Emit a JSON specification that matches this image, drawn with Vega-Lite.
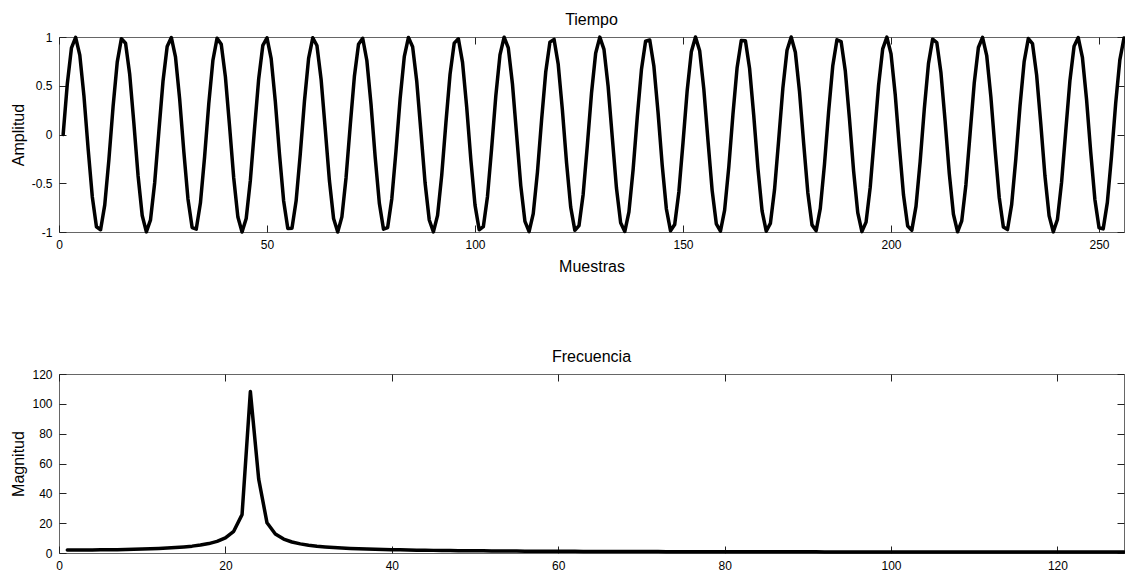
{
  "$schema": "https://vega.github.io/schema/vega-lite/v6.json",
  "background": "white",
  "padding": {"left": 9, "top": 11, "right": 0, "bottom": 0},
  "spacing": 73,
  "config": {
    "font": "Liberation Sans",
    "view": {"stroke": "#666666", "strokeWidth": 1},
    "axis": {"domain": false, "grid": false, "ticks": true, "tickSize": -7, "tickColor": "#222222", "tickWidth": 1, "labelPadding": 14, "labelFlush": false, "labelFontSize": 12, "labelColor": "#000000", "labelFont": "Liberation Sans", "titleFont": "Liberation Sans", "titleFontSize": 16, "titleFontWeight": "normal", "titleColor": "#000000"},
    "title": {"font": "Liberation Sans", "fontSize": 16, "fontWeight": "normal", "color": "#000000", "anchor": "middle", "frame": "group", "baseline": "alphabetic", "offset": 3}
  },
  "datasets": {
    "tiempo": [
      {"muestra":1,"amplitud":0},{"muestra":2,"amplitud":0.521},{"muestra":3,"amplitud":0.889},{"muestra":4,"amplitud":0.997},{"muestra":5,"amplitud":0.814},{"muestra":6,"amplitud":0.393},{"muestra":7,"amplitud":-0.144},{"muestra":8,"amplitud":-0.638},{"muestra":9,"amplitud":-0.946},{"muestra":10,"amplitud":-0.977},{"muestra":11,"amplitud":-0.722},{"muestra":12,"amplitud":-0.256},{"muestra":13,"amplitud":0.285},{"muestra":14,"amplitud":0.742},{"muestra":15,"amplitud":0.983},{"muestra":16,"amplitud":0.936},{"muestra":17,"amplitud":0.615},{"muestra":18,"amplitud":0.115},{"muestra":19,"amplitud":-0.42},{"muestra":20,"amplitud":-0.831},{"muestra":21,"amplitud":-0.999},{"muestra":22,"amplitud":-0.875},{"muestra":23,"amplitud":-0.495},
      {"muestra":24,"amplitud":0.03},{"muestra":25,"amplitud":0.546},{"muestra":26,"amplitud":0.902},{"muestra":27,"amplitud":0.995},{"muestra":28,"amplitud":0.796},{"muestra":29,"amplitud":0.365},{"muestra":30,"amplitud":-0.173},{"muestra":31,"amplitud":-0.661},{"muestra":32,"amplitud":-0.955},{"muestra":33,"amplitud":-0.97},{"muestra":34,"amplitud":-0.701},{"muestra":35,"amplitud":-0.228},{"muestra":36,"amplitud":0.313},{"muestra":37,"amplitud":0.762},{"muestra":38,"amplitud":0.988},{"muestra":39,"amplitud":0.925},{"muestra":40,"amplitud":0.591},{"muestra":41,"amplitud":0.085},{"muestra":42,"amplitud":-0.446},{"muestra":43,"amplitud":-0.847},{"muestra":44,"amplitud":-1.0},{"muestra":45,"amplitud":-0.861},{"muestra":46,"amplitud":-0.469},
      {"muestra":47,"amplitud":0.059},{"muestra":48,"amplitud":0.57},{"muestra":49,"amplitud":0.915},{"muestra":50,"amplitud":0.991},{"muestra":51,"amplitud":0.778},{"muestra":52,"amplitud":0.337},{"muestra":53,"amplitud":-0.202},{"muestra":54,"amplitud":-0.682},{"muestra":55,"amplitud":-0.963},{"muestra":56,"amplitud":-0.962},{"muestra":57,"amplitud":-0.68},{"muestra":58,"amplitud":-0.199},{"muestra":59,"amplitud":0.341},{"muestra":60,"amplitud":0.78},{"muestra":61,"amplitud":0.992},{"muestra":62,"amplitud":0.913},{"muestra":63,"amplitud":0.567},{"muestra":64,"amplitud":0.056},{"muestra":65,"amplitud":-0.472},{"muestra":66,"amplitud":-0.862},{"muestra":67,"amplitud":-1.0},{"muestra":68,"amplitud":-0.845},{"muestra":69,"amplitud":-0.443},
      {"muestra":70,"amplitud":0.089},{"muestra":71,"amplitud":0.594},{"muestra":72,"amplitud":0.926},{"muestra":73,"amplitud":0.987},{"muestra":74,"amplitud":0.759},{"muestra":75,"amplitud":0.31},{"muestra":76,"amplitud":-0.231},{"muestra":77,"amplitud":-0.704},{"muestra":78,"amplitud":-0.971},{"muestra":79,"amplitud":-0.954},{"muestra":80,"amplitud":-0.658},{"muestra":81,"amplitud":-0.17},{"muestra":82,"amplitud":0.368},{"muestra":83,"amplitud":0.799},{"muestra":84,"amplitud":0.995},{"muestra":85,"amplitud":0.901},{"muestra":86,"amplitud":0.543},{"muestra":87,"amplitud":0.026},{"muestra":88,"amplitud":-0.498},{"muestra":89,"amplitud":-0.877},{"muestra":90,"amplitud":-0.999},{"muestra":91,"amplitud":-0.829},{"muestra":92,"amplitud":-0.416},
      {"muestra":93,"amplitud":0.118},{"muestra":94,"amplitud":0.618},{"muestra":95,"amplitud":0.937},{"muestra":96,"amplitud":0.982},{"muestra":97,"amplitud":0.74},{"muestra":98,"amplitud":0.281},{"muestra":99,"amplitud":-0.26},{"muestra":100,"amplitud":-0.724},{"muestra":101,"amplitud":-0.977},{"muestra":102,"amplitud":-0.945},{"muestra":103,"amplitud":-0.635},{"muestra":104,"amplitud":-0.14},{"muestra":105,"amplitud":0.396},{"muestra":106,"amplitud":0.816},{"muestra":107,"amplitud":0.998},{"muestra":108,"amplitud":0.888},{"muestra":109,"amplitud":0.518},{"muestra":110,"amplitud":-0.004},{"muestra":111,"amplitud":-0.524},{"muestra":112,"amplitud":-0.891},{"muestra":113,"amplitud":-0.997},{"muestra":114,"amplitud":-0.812},{"muestra":115,"amplitud":-0.389},
      {"muestra":116,"amplitud":0.147},{"muestra":117,"amplitud":0.641},{"muestra":118,"amplitud":0.947},{"muestra":119,"amplitud":0.976},{"muestra":120,"amplitud":0.72},{"muestra":121,"amplitud":0.253},{"muestra":122,"amplitud":-0.288},{"muestra":123,"amplitud":-0.745},{"muestra":124,"amplitud":-0.983},{"muestra":125,"amplitud":-0.934},{"muestra":126,"amplitud":-0.612},{"muestra":127,"amplitud":-0.111},{"muestra":128,"amplitud":0.423},{"muestra":129,"amplitud":0.833},{"muestra":130,"amplitud":0.999},{"muestra":131,"amplitud":0.873},{"muestra":132,"amplitud":0.492},{"muestra":133,"amplitud":-0.033},{"muestra":134,"amplitud":-0.549},{"muestra":135,"amplitud":-0.904},{"muestra":136,"amplitud":-0.995},{"muestra":137,"amplitud":-0.794},{"muestra":138,"amplitud":-0.362},
      {"muestra":139,"amplitud":0.177},{"muestra":140,"amplitud":0.663},{"muestra":141,"amplitud":0.956},{"muestra":142,"amplitud":0.969},{"muestra":143,"amplitud":0.699},{"muestra":144,"amplitud":0.224},{"muestra":145,"amplitud":-0.316},{"muestra":146,"amplitud":-0.764},{"muestra":147,"amplitud":-0.988},{"muestra":148,"amplitud":-0.923},{"muestra":149,"amplitud":-0.589},{"muestra":150,"amplitud":-0.082},{"muestra":151,"amplitud":0.449},{"muestra":152,"amplitud":0.849},{"muestra":153,"amplitud":1.0},{"muestra":154,"amplitud":0.859},{"muestra":155,"amplitud":0.466},{"muestra":156,"amplitud":-0.063},{"muestra":157,"amplitud":-0.573},{"muestra":158,"amplitud":-0.916},{"muestra":159,"amplitud":-0.991},{"muestra":160,"amplitud":-0.776},{"muestra":161,"amplitud":-0.334},
      {"muestra":162,"amplitud":0.206},{"muestra":163,"amplitud":0.685},{"muestra":164,"amplitud":0.964},{"muestra":165,"amplitud":0.961},{"muestra":166,"amplitud":0.677},{"muestra":167,"amplitud":0.195},{"muestra":168,"amplitud":-0.344},{"muestra":169,"amplitud":-0.783},{"muestra":170,"amplitud":-0.992},{"muestra":171,"amplitud":-0.912},{"muestra":172,"amplitud":-0.565},{"muestra":173,"amplitud":-0.052},{"muestra":174,"amplitud":0.476},{"muestra":175,"amplitud":0.864},{"muestra":176,"amplitud":1.0},{"muestra":177,"amplitud":0.843},{"muestra":178,"amplitud":0.44},{"muestra":179,"amplitud":-0.092},{"muestra":180,"amplitud":-0.597},{"muestra":181,"amplitud":-0.927},{"muestra":182,"amplitud":-0.987},{"muestra":183,"amplitud":-0.757},{"muestra":184,"amplitud":-0.306},
      {"muestra":185,"amplitud":0.234},{"muestra":186,"amplitud":0.706},{"muestra":187,"amplitud":0.972},{"muestra":188,"amplitud":0.953},{"muestra":189,"amplitud":0.655},{"muestra":190,"amplitud":0.166},{"muestra":191,"amplitud":-0.372},{"muestra":192,"amplitud":-0.801},{"muestra":193,"amplitud":-0.996},{"muestra":194,"amplitud":-0.899},{"muestra":195,"amplitud":-0.54},{"muestra":196,"amplitud":-0.023},{"muestra":197,"amplitud":0.501},{"muestra":198,"amplitud":0.879},{"muestra":199,"amplitud":0.999},{"muestra":200,"amplitud":0.827},{"muestra":201,"amplitud":0.413},{"muestra":202,"amplitud":-0.122},{"muestra":203,"amplitud":-0.621},{"muestra":204,"amplitud":-0.938},{"muestra":205,"amplitud":-0.981},{"muestra":206,"amplitud":-0.737},{"muestra":207,"amplitud":-0.278},
      {"muestra":208,"amplitud":0.263},{"muestra":209,"amplitud":0.727},{"muestra":210,"amplitud":0.978},{"muestra":211,"amplitud":0.943},{"muestra":212,"amplitud":0.633},{"muestra":213,"amplitud":0.137},{"muestra":214,"amplitud":-0.399},{"muestra":215,"amplitud":-0.818},{"muestra":216,"amplitud":-0.998},{"muestra":217,"amplitud":-0.886},{"muestra":218,"amplitud":-0.515},{"muestra":219,"amplitud":0.007},{"muestra":220,"amplitud":0.527},{"muestra":221,"amplitud":0.892},{"muestra":222,"amplitud":0.997},{"muestra":223,"amplitud":0.81},{"muestra":224,"amplitud":0.386},{"muestra":225,"amplitud":-0.151},{"muestra":226,"amplitud":-0.643},{"muestra":227,"amplitud":-0.948},{"muestra":228,"amplitud":-0.975},{"muestra":229,"amplitud":-0.717},{"muestra":230,"amplitud":-0.249},
      {"muestra":231,"amplitud":0.291},{"muestra":232,"amplitud":0.747},{"muestra":233,"amplitud":0.984},{"muestra":234,"amplitud":0.933},{"muestra":235,"amplitud":0.609},{"muestra":236,"amplitud":0.108},{"muestra":237,"amplitud":-0.426},{"muestra":238,"amplitud":-0.835},{"muestra":239,"amplitud":-0.999},{"muestra":240,"amplitud":-0.872},{"muestra":241,"amplitud":-0.489},{"muestra":242,"amplitud":0.037},{"muestra":243,"amplitud":0.552},{"muestra":244,"amplitud":0.905},{"muestra":245,"amplitud":0.994},{"muestra":246,"amplitud":0.792},{"muestra":247,"amplitud":0.359},{"muestra":248,"amplitud":-0.18},{"muestra":249,"amplitud":-0.666},{"muestra":250,"amplitud":-0.957},{"muestra":251,"amplitud":-0.968},{"muestra":252,"amplitud":-0.696},{"muestra":253,"amplitud":-0.221},
      {"muestra":254,"amplitud":0.32},{"muestra":255,"amplitud":0.766},{"muestra":256,"amplitud":0.989}
    ],
    "frecuencia": [
      {"indice":1,"magnitud":2.01},{"indice":2,"magnitud":2.01},{"indice":3,"magnitud":2.03},{"indice":4,"magnitud":2.07},{"indice":5,"magnitud":2.11},{"indice":6,"magnitud":2.18},{"indice":7,"magnitud":2.26},{"indice":8,"magnitud":2.36},{"indice":9,"magnitud":2.48},{"indice":10,"magnitud":2.63},{"indice":11,"magnitud":2.81},{"indice":12,"magnitud":3.03},{"indice":13,"magnitud":3.3},{"indice":14,"magnitud":3.64},{"indice":15,"magnitud":4.06},{"indice":16,"magnitud":4.6},{"indice":17,"magnitud":5.32},{"indice":18,"magnitud":6.32},{"indice":19,"magnitud":7.78},{"indice":20,"magnitud":10.15},{"indice":21,"magnitud":14.57},{"indice":22,"magnitud":25.73},{"indice":23,"magnitud":108.26},{"indice":24,"magnitud":49.5},{"indice":25,"magnitud":20.24},{"indice":26,"magnitud":12.76},{"indice":27,"magnitud":9.35},{"indice":28,"magnitud":7.39},{"indice":29,"magnitud":6.12},{"indice":30,"magnitud":5.23},{"indice":31,"magnitud":4.58},{"indice":32,"magnitud":4.07},{"indice":33,"magnitud":3.67},{"indice":34,"magnitud":3.35},{"indice":35,"magnitud":3.08},{"indice":36,"magnitud":2.85},{"indice":37,"magnitud":2.66},{"indice":38,"magnitud":2.5},{"indice":39,"magnitud":2.35},{"indice":40,"magnitud":2.22},{"indice":41,"magnitud":2.11},{"indice":42,"magnitud":2.01},{"indice":43,"magnitud":1.92},{"indice":44,"magnitud":1.84},{"indice":45,"magnitud":1.76},{"indice":46,"magnitud":1.7},{"indice":47,"magnitud":1.63},{"indice":48,"magnitud":1.58},{"indice":49,"magnitud":1.53},{"indice":50,"magnitud":1.48},{"indice":51,"magnitud":1.43},{"indice":52,"magnitud":1.39},{"indice":53,"magnitud":1.36},{"indice":54,"magnitud":1.32},{"indice":55,"magnitud":1.28},{"indice":56,"magnitud":1.25},{"indice":57,"magnitud":1.22},{"indice":58,"magnitud":1.2},{"indice":59,"magnitud":1.17},{"indice":60,"magnitud":1.14},{"indice":61,"magnitud":1.12},{"indice":62,"magnitud":1.1},{"indice":63,"magnitud":1.08},{"indice":64,"magnitud":1.06},{"indice":65,"magnitud":1.04},{"indice":66,"magnitud":1.02},{"indice":67,"magnitud":1.0},{"indice":68,"magnitud":0.99},{"indice":69,"magnitud":0.97},{"indice":70,"magnitud":0.95},{"indice":71,"magnitud":0.94},{"indice":72,"magnitud":0.93},{"indice":73,"magnitud":0.91},{"indice":74,"magnitud":0.9},{"indice":75,"magnitud":0.89},{"indice":76,"magnitud":0.88},{"indice":77,"magnitud":0.87},{"indice":78,"magnitud":0.86},{"indice":79,"magnitud":0.85},{"indice":80,"magnitud":0.84},{"indice":81,"magnitud":0.83},{"indice":82,"magnitud":0.82},{"indice":83,"magnitud":0.81},{"indice":84,"magnitud":0.8},{"indice":85,"magnitud":0.8},{"indice":86,"magnitud":0.79},{"indice":87,"magnitud":0.78},{"indice":88,"magnitud":0.77},{"indice":89,"magnitud":0.77},{"indice":90,"magnitud":0.76},{"indice":91,"magnitud":0.76},{"indice":92,"magnitud":0.75},{"indice":93,"magnitud":0.74},{"indice":94,"magnitud":0.74},{"indice":95,"magnitud":0.73},{"indice":96,"magnitud":0.73},{"indice":97,"magnitud":0.72},{"indice":98,"magnitud":0.72},{"indice":99,"magnitud":0.72},{"indice":100,"magnitud":0.71},{"indice":101,"magnitud":0.71},{"indice":102,"magnitud":0.7},{"indice":103,"magnitud":0.7},{"indice":104,"magnitud":0.7},{"indice":105,"magnitud":0.69},{"indice":106,"magnitud":0.69},{"indice":107,"magnitud":0.69},{"indice":108,"magnitud":0.68},{"indice":109,"magnitud":0.68},{"indice":110,"magnitud":0.68},{"indice":111,"magnitud":0.68},{"indice":112,"magnitud":0.67},{"indice":113,"magnitud":0.67},{"indice":114,"magnitud":0.67},{"indice":115,"magnitud":0.67},{"indice":116,"magnitud":0.67},{"indice":117,"magnitud":0.67},{"indice":118,"magnitud":0.66},{"indice":119,"magnitud":0.66},{"indice":120,"magnitud":0.66},{"indice":121,"magnitud":0.66},{"indice":122,"magnitud":0.66},{"indice":123,"magnitud":0.66},{"indice":124,"magnitud":0.66},{"indice":125,"magnitud":0.66},{"indice":126,"magnitud":0.66},{"indice":127,"magnitud":0.66},{"indice":128,"magnitud":0.66}
    ]
  },
  "vconcat": [
    {
      "width": 1065,
      "height": 195,
      "title": {"text": "Tiempo"},
      "data": {"name": "tiempo"},
      "layer": [
        {
          "mark": {"type": "line", "color": "#000000", "strokeWidth": 3.5, "strokeJoin": "round", "strokeCap": "round"},
          "encoding": {
            "x": {"field": "muestra", "type": "quantitative", "scale": {"domain": [0, 256], "nice": false, "zero": false},
                  "axis": {"orient": "bottom", "values": [0, 50, 100, 150, 200, 250], "title": "Muestras", "titleX": 532.5, "titleY": 39, "titleBaseline": "alphabetic", "titleAlign": "center"}},
            "y": {"field": "amplitud", "type": "quantitative", "scale": {"domain": [-1, 1], "nice": false, "zero": false},
                  "axis": {"orient": "left", "values": [-1, -0.5, 0, 0.5, 1], "title": "Amplitud", "titleX": -36, "titleY": 97.5, "titleAngle": 270, "titleBaseline": "alphabetic", "titleAlign": "center", "labelExpr": "replace(format(datum.value, '~g'), '\u2212', '-')"}}
          }
        },
        {
          "mark": {"type": "line", "strokeOpacity": 0},
          "encoding": {
            "x": {"field": "muestra", "type": "quantitative", "axis": {"orient": "top", "values": [0, 50, 100, 150, 200, 250], "labels": false, "title": null}},
            "y": {"field": "amplitud", "type": "quantitative", "axis": {"orient": "right", "values": [-1, -0.5, 0, 0.5, 1], "labels": false, "title": null}}
          }
        }
      ],
      "resolve": {"axis": {"x": "independent", "y": "independent"}}
    },
    {
      "width": 1065,
      "height": 179,
      "title": {"text": "Frecuencia"},
      "data": {"name": "frecuencia"},
      "layer": [
        {
          "mark": {"type": "line", "color": "#000000", "strokeWidth": 3.5, "strokeJoin": "round", "strokeCap": "round"},
          "encoding": {
            "x": {"field": "indice", "type": "quantitative", "scale": {"domain": [0, 128], "nice": false, "zero": false},
                  "axis": {"orient": "bottom", "values": [0, 20, 40, 60, 80, 100, 120], "title": null}},
            "y": {"field": "magnitud", "type": "quantitative", "scale": {"domain": [0, 120], "nice": false},
                  "axis": {"orient": "left", "values": [0, 20, 40, 60, 80, 100, 120], "title": "Magnitud", "titleX": -36, "titleY": 89.5, "titleAngle": 270, "titleBaseline": "alphabetic", "titleAlign": "center"}}
          }
        },
        {
          "mark": {"type": "line", "strokeOpacity": 0},
          "encoding": {
            "x": {"field": "indice", "type": "quantitative", "axis": {"orient": "top", "values": [0, 20, 40, 60, 80, 100, 120], "labels": false, "title": null}},
            "y": {"field": "magnitud", "type": "quantitative", "axis": {"orient": "right", "values": [0, 20, 40, 60, 80, 100, 120], "labels": false, "title": null}}
          }
        }
      ],
      "resolve": {"axis": {"x": "independent", "y": "independent"}}
    }
  ]
}
